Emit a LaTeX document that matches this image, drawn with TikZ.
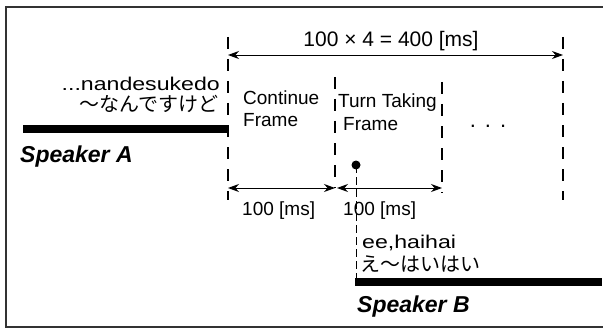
\documentclass[tikz,border=0pt]{standalone}
\usepackage{fontspec}
\setmainfont{Liberation Sans}
\newfontfamily\jpfont{Noto Sans CJK JP}
\newcommand\widefont{\addfontfeature{FakeStretch=1.25}}
\usetikzlibrary{arrows.meta}

\tikzset{
  frameline/.style={dash pattern=on 12pt off 10pt, line width=1.3pt},
  spanarrow/.style={{Stealth[length=11pt,width=8pt]}-{Stealth[length=11pt,width=8pt]}, line width=0.9pt},
  talkbar/.style={line width=8pt},
  lbl/.style={inner sep=0pt, font=\fontsize{19}{22}\selectfont},
  jlbl/.style={inner sep=0pt, font=\fontsize{20}{24}\selectfont\jpfont},
  rlbl/.style={inner sep=0pt, font=\fontsize{18.5}{22}\selectfont\widefont},
  spk/.style={inner sep=0pt, font=\fontsize{23}{26}\selectfont\bfseries\itshape},
}

\begin{document}
\begin{tikzpicture}[x=1pt,y=-1pt]
  \useasboundingbox (0,0) rectangle (603,329);
  \draw[line width=1.8pt, draw=black!80] (603,7) -- (6,7) -- (6,327) -- (603,327);

  % frame borders
  \coordinate (f0t) at (228,37);  \coordinate (f0b) at (228,200);
  \coordinate (f1t) at (335,77);  \coordinate (f1b) at (335,188);
  \coordinate (f2t) at (442,82);  \coordinate (f2b) at (442,193);
  \coordinate (f3t) at (563,37);  \coordinate (f3b) at (563,200);
  \draw[frameline] (f0t) -- (f0b);
  \draw[frameline] (f1t) -- (f1b);
  \draw[frameline] (f2t) -- (f2b);
  \draw[frameline] (f3t) -- (f3b);

  % spans
  \coordinate (s0) at (228,55);  \coordinate (s1) at (563,55);
  \draw[spanarrow] (s0) -- (s1);
  \node[lbl, font=\fontsize{21}{24}\selectfont, anchor=base] (total) at (391,47) {100 × 4 = 400 [ms]};
  \coordinate (c0) at (228,188); \coordinate (c1) at (335,188);
  \coordinate (t0) at (337,188); \coordinate (t1) at (442,188);
  \draw[spanarrow] (c0) -- (c1);
  \draw[spanarrow] (t0) -- (t1);
  \node[lbl, anchor=base west] (cms) at (242,215) {100 [ms]};
  \node[lbl, anchor=base west] (tms) at (343,215) {100 [ms]};

  % frames
  \node[lbl, anchor=base west, align=left] (cont) at (243,126) {Continue\\Frame};
  \node[lbl, anchor=base west, align=left] (turn) at (338,130) {Turn Taking\\\hspace{5pt}Frame};
  \node[lbl, font=\fontsize{22}{24}\selectfont, anchor=base] (more) at (488,128) {.\hspace{9pt}.\hspace{9pt}.};

  % speaker A
  \coordinate (a0) at (23,129); \coordinate (a1) at (228,129);
  \draw[talkbar] (a0) -- (a1);
  \node[rlbl, anchor=base east] (aro) at (220,91) {...nandesukedo};
  \node[jlbl, anchor=base east] (ajp) at (219,112) {〜なんですけど};
  \node[spk, anchor=base west] (spa) at (20,162) {Speaker A};

  % speaker B
  \coordinate (b0) at (355,282); \coordinate (b1) at (602,282);
  \draw[talkbar] (b0) -- (b1);
  \coordinate (tt) at (356,165);
  \fill (tt) circle (4.5);
  \draw[line width=0.9pt, dash pattern=on 8pt off 4pt] (tt) -- (356,278);
  \node[rlbl, anchor=base west] (bro) at (362,248) {ee,haihai};
  \node[jlbl, anchor=base west] (bjp) at (360,271) {え〜はいはい};
  \node[spk, anchor=base west] (spb) at (357,312) {Speaker B};
\end{tikzpicture}
\end{document}
